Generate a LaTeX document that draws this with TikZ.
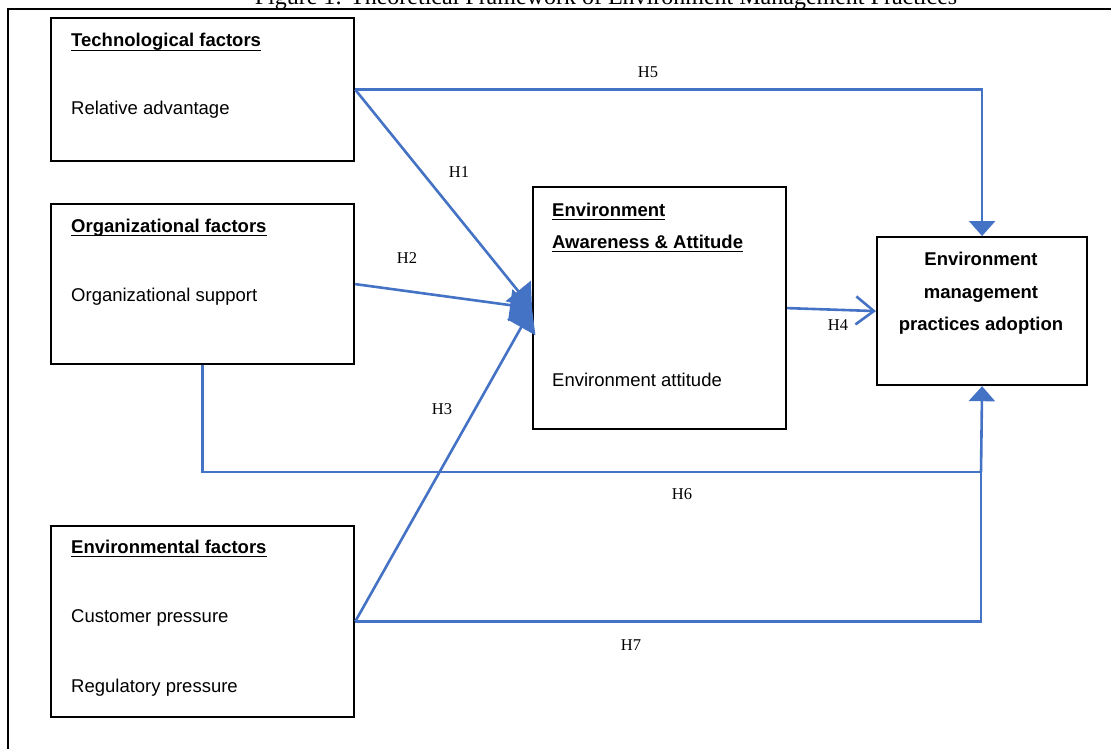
\documentclass[tikz,border=0pt]{standalone}
\usepackage{fontspec}
\setmainfont{Liberation Sans}
\newfontfamily\tnr{Liberation Serif}
\usetikzlibrary{arrows.meta}
\definecolor{lnblue}{HTML}{4472C4}
\begin{document}
\begin{tikzpicture}[x=1pt,y=-1pt,
 box/.style={draw=black,line width=2.2pt,anchor=north west,inner sep=0pt},
 conn/.style={draw=lnblue,line width=2.6pt},
 tri/.style={-{Triangle[length=15pt,width=26pt]}},
 bigtri/.style={-{Triangle[length=22pt,width=32pt]}},
 txt/.style={anchor=base west,inner sep=0pt,font=\fontsize{18.5}{22}\selectfont},
 btxt/.style={txt,font=\bfseries\fontsize{18.5}{22}\selectfont},
 ctxt/.style={anchor=base,inner sep=0pt,font=\bfseries\fontsize{18.5}{22}\selectfont},
 hl/.style={inner sep=0pt,font=\tnr\fontsize{16.5}{20}\selectfont},
 ul/.style={line width=1.4pt},
 ]
\useasboundingbox (0,0) rectangle (1111,749);
\clip (0,0) rectangle (1111,749);
% title (cut off at top, as in the reference)
\node[anchor=base,inner sep=0pt,font=\tnr\fontsize{24}{28}\selectfont] (title) at (606,5) {Figure 1: Theoretical Framework of Environment Management Practices};
% outer frame
\draw[line width=1.5pt] (8,760) -- (8,9) -- (1120,9);
% boxes
\node[box,minimum width=303,minimum height=143] (tech) at (50,17) {};
\node[box,minimum width=303,minimum height=160] (org) at (50,203) {};
\node[box,minimum width=303,minimum height=191] (envf) at (50,525) {};
\node[box,minimum width=253,minimum height=242] (aware) at (532,186) {};
\node[box,minimum width=210,minimum height=148] (emp) at (876,236) {};
% texts
\node[btxt] (t1) at (71,47) {Technological factors};
\node[txt] (t2) at (71,115) {Relative advantage};
\node[btxt] (o1) at (71,232) {Organizational factors};
\node[txt] (o2) at (71,301) {Organizational support};
\node[btxt] (e1) at (71,553) {Environmental factors};
\node[txt] (e2) at (71,622) {Customer pressure};
\node[txt] (e3) at (71,692) {Regulatory pressure};
\node[btxt] (a1) at (552,216) {Environment};
\node[btxt] (a2) at (552,248) {Awareness \& Attitude};
\node[txt] (a3) at (552,386) {Environment attitude};
\node[ctxt] (m1) at (981,265) {Environment};
\node[ctxt] (m2) at (981,298) {management};
\node[ctxt] (m3) at (981,330) {practices adoption};
% underlines
\foreach \n in {t1,o1,e1,a1,a2}
  \draw[ul] ([yshift=-3.5pt]\n.base west) -- ([yshift=-3.5pt]\n.base east);
% connectors
\coordinate (j6) at (981,472);
\draw[conn,tri] (tech.east) -| (emp.north);
\draw[conn,bigtri] (tech.east) -- (aware.west);
\draw[conn,bigtri] (org.east) -- (aware.west);
\draw[conn,bigtri] (envf.east) -- (aware.west);
\draw[conn,-{Straight Barb[length=18pt,width=28pt]}] (aware.east) -- (emp.west);
\draw[conn] (org.south) |- (j6);
\draw[conn] (envf.east) -| (j6);
\draw[conn,tri] (j6) -- (emp.south);
% labels
\node[hl] (h5) at (648,72) {H5};
\node[hl] (h1) at (459,172) {H1};
\node[hl] (h2) at (407,258) {H2};
\node[hl] (h3) at (442,409) {H3};
\node[hl] (h4) at (838,325) {H4};
\node[hl] (h6) at (682,494) {H6};
\node[hl] (h7) at (631,645) {H7};
\end{tikzpicture}
\end{document}
